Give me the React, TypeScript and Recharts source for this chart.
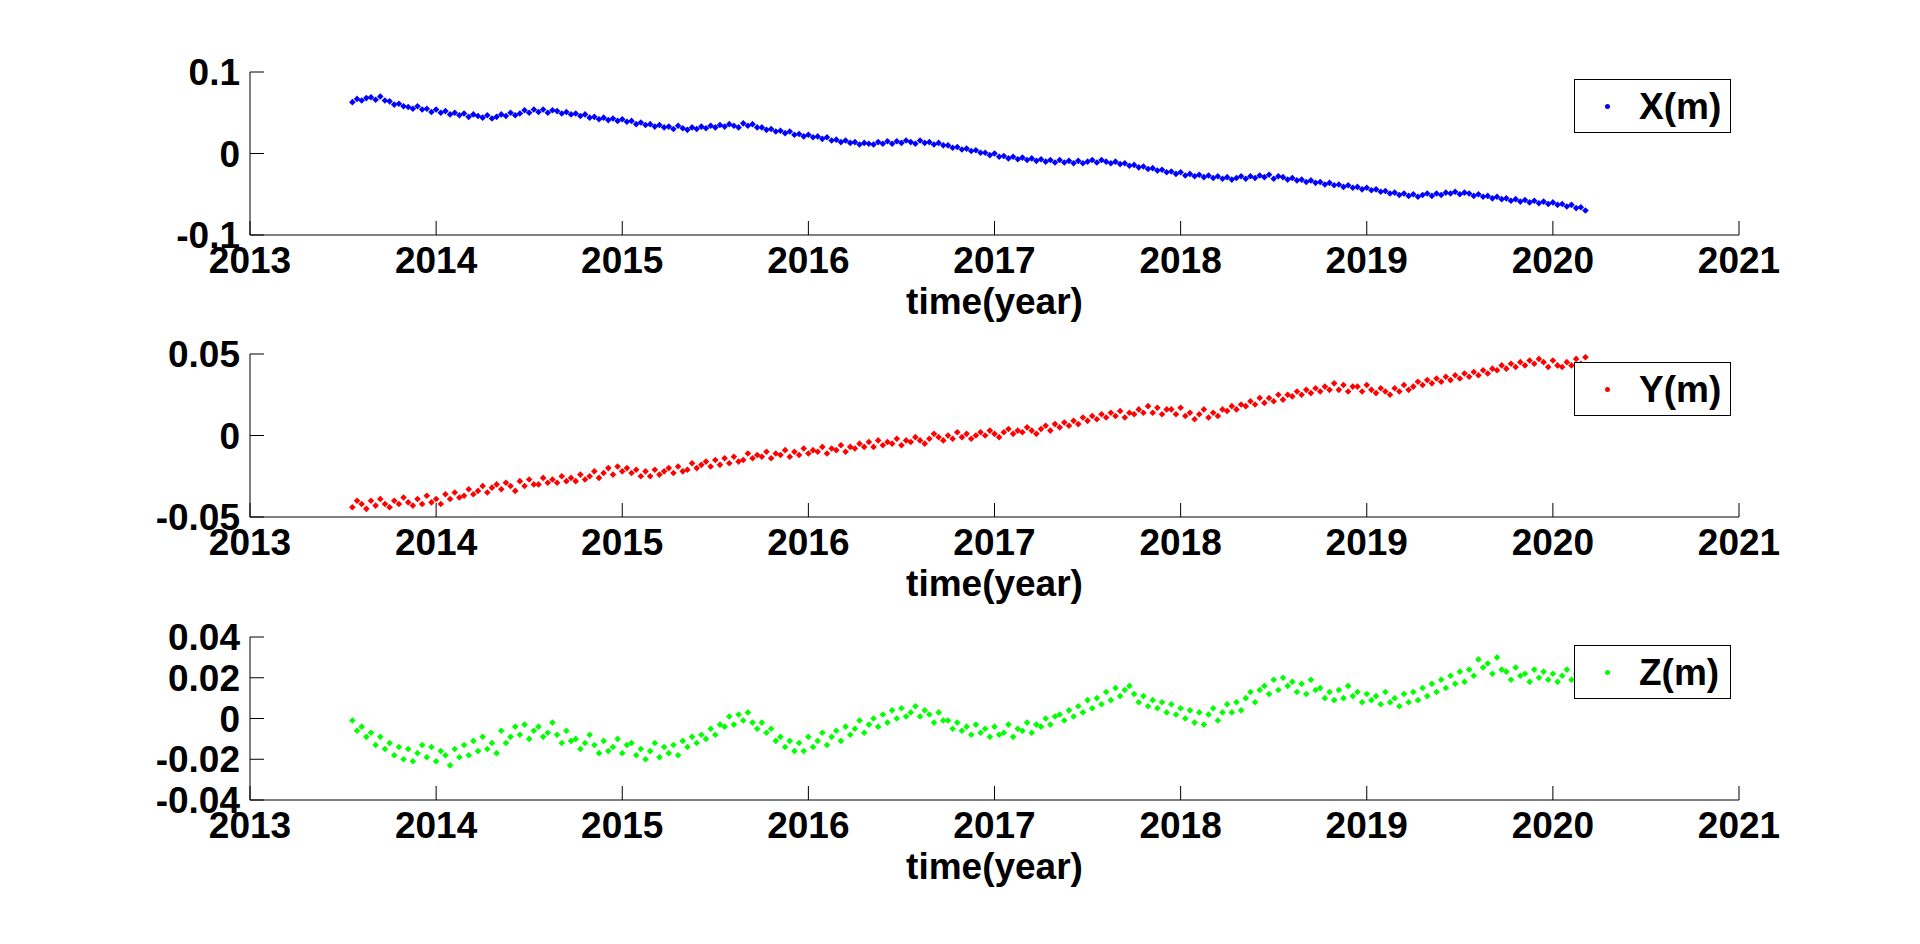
import React from 'react';
import { ScatterChart, Scatter, XAxis, YAxis, Legend } from 'recharts';

// sampling of the daily solutions (decimal year)
const START_YEAR = 2013.55;
const STEP_YEAR = 0.025;
const YEAR_TICKS = [2013, 2014, 2015, 2016, 2017, 2018, 2019, 2020, 2021];

// X component, millimetres, 4 samples per 0.1 year
const X_MM = [
  63, 67, 65, 68, 69, 66, 70, 65, 64, 60, 61, 58, 57, 55, 58, 54, // 2013.55
  55, 51, 54, 50, 52, 48, 50, 47, 49, 45, 48, 46, 44, 47, 43, 45, // 2013.95
  48, 46, 50, 47, 49, 53, 50, 54, 51, 54, 50, 53, 52, 49, 51, 48, // 2014.35
  49, 46, 48, 44, 45, 42, 44, 41, 43, 40, 42, 39, 40, 36, 38, 35, // 2014.75
  36, 33, 35, 32, 33, 30, 34, 31, 29, 32, 30, 33, 31, 34, 32, 35, // 2015.15
  33, 36, 34, 32, 37, 34, 36, 32, 32, 29, 30, 27, 28, 25, 27, 23, // 2015.55
  24, 21, 23, 20, 21, 18, 20, 16, 17, 14, 16, 13, 14, 11, 13, 12, // 2015.95
  11, 14, 12, 15, 12, 15, 13, 16, 14, 12, 16, 13, 14, 11, 13, 10, // 2016.35
  10, 7, 8, 5, 6, 3, 4, 1, 1, -2, 0, -4, -3, -6, -4, -7, // 2016.75
  -5, -8, -6, -9, -7, -10, -8, -11, -8, -11, -9, -12, -9, -12, -10, -8, // 2017.15
  -11, -8, -10, -12, -10, -13, -12, -15, -14, -17, -16, -19, -18, -21, -20, -23, // 2017.55
  -22, -25, -23, -27, -25, -28, -26, -29, -27, -30, -28, -31, -29, -32, -30, -28, // 2017.95
  -31, -28, -30, -27, -29, -26, -31, -28, -29, -32, -30, -33, -32, -35, -33, -36, // 2018.35
  -35, -38, -36, -39, -38, -41, -39, -42, -41, -44, -42, -45, -44, -47, -46, -49, // 2018.75
  -48, -51, -49, -52, -50, -53, -51, -49, -52, -49, -51, -48, -49, -47, -50, -48, // 2019.15
  -49, -52, -50, -53, -52, -55, -53, -56, -55, -58, -56, -59, -57, -60, -58, -61, // 2019.55
  -59, -62, -60, -63, -62, -65, -63, -67, -66, -70, // 2019.95
];

// Y component, millimetres
const Y_MM = [
  -44, -40, -42, -45, -40, -43, -39, -42, -44, -40, -42, -38, -41, -43, -39, -42, // 2013.55
  -37, -41, -39, -42, -36, -39, -35, -38, -37, -33, -36, -34, -31, -35, -32, -30, // 2013.95
  -33, -29, -31, -34, -28, -31, -27, -30, -30, -26, -29, -27, -29, -25, -28, -26, // 2014.35
  -28, -24, -27, -25, -22, -26, -23, -20, -24, -19, -22, -20, -23, -21, -25, -22, // 2014.75
  -25, -21, -24, -22, -20, -23, -19, -22, -21, -17, -20, -18, -16, -19, -15, -18, // 2015.15
  -14, -17, -13, -16, -15, -11, -14, -12, -13, -10, -14, -11, -12, -9, -13, -10, // 2015.55
  -12, -8, -11, -9, -10, -7, -11, -8, -9, -6, -10, -7, -8, -5, -7, -4, // 2015.95
  -7, -3, -6, -4, -5, -2, -6, -3, -4, -1, -3, -5, -2, 1, -1, -3, // 2016.35
  0, -2, 2, -1, 1, -2, 0, 2, 0, 3, 1, -1, 2, 4, 1, 3, // 2016.75
  2, 5, 3, 1, 4, 6, 3, 7, 5, 8, 6, 9, 7, 11, 9, 12, // 2017.15
  10, 13, 11, 14, 12, 15, 11, 14, 13, 16, 14, 18, 14, 17, 13, 16, // 2017.55
  16, 13, 17, 12, 14, 10, 13, 16, 11, 14, 12, 16, 15, 18, 16, 19, // 2017.95
  18, 21, 19, 23, 20, 23, 21, 25, 22, 25, 24, 27, 25, 28, 26, 29, // 2018.35
  27, 30, 28, 32, 28, 31, 27, 30, 30, 27, 31, 28, 26, 29, 27, 25, // 2018.75
  29, 27, 31, 28, 30, 33, 31, 34, 32, 35, 33, 36, 34, 37, 35, 38, // 2019.15
  36, 39, 37, 40, 38, 41, 40, 43, 41, 44, 42, 45, 43, 46, 44, 47, // 2019.55
  45, 42, 46, 43, 42, 45, 43, 47, 44, 48, // 2019.95
];

// Z component, millimetres
const Z_MM = [
  -1, -6, -4, -9, -7, -13, -9, -15, -12, -18, -14, -20, -15, -21, -17, -13, // 2013.55
  -19, -14, -21, -16, -18, -23, -15, -19, -13, -18, -11, -16, -9, -15, -12, -17, // 2013.95
  -6, -12, -9, -4, -8, -3, -10, -6, -4, -9, -7, -2, -8, -12, -6, -11, // 2014.35
  -10, -15, -12, -8, -13, -17, -11, -16, -14, -10, -17, -13, -12, -18, -15, -20, // 2014.75
  -16, -12, -19, -14, -17, -13, -18, -11, -14, -9, -12, -8, -10, -5, -8, -3, // 2015.15
  -4, 1, -3, 2, -1, 3, -2, -5, -2, -7, -5, -11, -9, -14, -11, -16, // 2015.55
  -12, -16, -9, -14, -11, -7, -13, -9, -6, -11, -4, -8, -5, -1, -7, -3, // 2015.95
  0, -4, 2, -2, 4, 0, 5, 1, 3, 6, 1, 4, 2, -2, 3, -1, // 2016.35
  -1, -5, -2, -6, -4, -8, -3, -7, -5, -9, -4, -8, -7, -3, -9, -5, // 2016.75
  -6, -2, -7, -3, -4, 0, -3, 1, 2, -1, 4, 1, 6, 3, 9, 5, // 2017.15
  10, 7, 13, 9, 15, 11, 14, 16, 12, 8, 11, 6, 9, 5, 8, 3, // 2017.55
  7, 2, 5, 0, 4, -2, 3, -3, 2, 5, -1, 3, 7, 3, 8, 4, // 2017.95
  10, 13, 8, 14, 16, 12, 19, 14, 20, 16, 18, 13, 17, 12, 19, 14, // 2018.35
  15, 10, 13, 9, 14, 10, 16, 11, 13, 8, 12, 9, 11, 7, 13, 8, // 2018.75
  10, 6, 12, 8, 13, 9, 15, 11, 17, 13, 19, 15, 21, 17, 23, 18, // 2019.15
  24, 21, 29, 25, 27, 22, 30, 24, 23, 19, 25, 21, 22, 18, 24, 20, // 2019.55
  23, 19, 22, 18, 21, 24, 19, 22, 20, 18, // 2019.95
];

const X_TICKS = [-0.1, 0, 0.1];
const Y_TICKS = [-0.05, 0, 0.05];
const Z_TICKS = [-0.04, -0.02, 0, 0.02, 0.04];

const FONT = '"Liberation Sans", Arial, Helvetica, sans-serif';
const FONT_SIZE = 37;
const TICK_LEN = 14;

const toPoints = (mm: number[]) =>
  mm.map((v, i) => ({ t: +(START_YEAR + i * STEP_YEAR).toFixed(3), v: v / 1000 }));

const fmt = (v: number) => String(Number(v.toFixed(3)));

// bottom axis: label outside, tick drawn inward
const YearTick = (props: any) => {
  const { x, y, payload } = props;
  const axisY = y - 12;
  return (
    <g>
      <line x1={x} x2={x} y1={axisY} y2={axisY - TICK_LEN} stroke="#000" />
      <text x={x} y={y} dy="0.71em" textAnchor="middle" fill="#000"
        fontFamily={FONT} fontWeight="bold" fontSize={FONT_SIZE}>
        {payload.value}
      </text>
    </g>
  );
};

// left axis: label outside, tick drawn inward
const ValueTick = (props: any) => {
  const { x, y, payload } = props;
  const axisX = x + 10;
  return (
    <g>
      <line x1={axisX} x2={axisX + TICK_LEN} y1={y} y2={y} stroke="#000" />
      <text x={x} y={y} dy="0.355em" textAnchor="end" fill="#000"
        fontFamily={FONT} fontWeight="bold" fontSize={FONT_SIZE}>
        {fmt(payload.value)}
      </text>
    </g>
  );
};

const TimeLabel = (props: any) => {
  const { viewBox } = props;
  return (
    <text x={viewBox.x + viewBox.width / 2} y={viewBox.y + 79} textAnchor="middle" fill="#000"
      fontFamily={FONT} fontWeight="bold" fontSize={FONT_SIZE}>
      time(year)
    </text>
  );
};

// small diamond, like the '.' marker of the original plot
const Dot = (p: any) => {
  const s = 3.3;
  return <path d={`M${p.cx},${p.cy - s}L${p.cx + s},${p.cy}L${p.cx},${p.cy + s}L${p.cx - s},${p.cy}Z`} fill={p.fill} />;
};

const LegendBox = ({ name, color }: { name: string; color: string }) => (
  <div style={{
    width: 157, height: 54, boxSizing: 'border-box', border: '1px solid #000', background: '#fff',
    display: 'flex', alignItems: 'center', fontFamily: FONT, fontWeight: 'bold', fontSize: FONT_SIZE,
  }}>
    <span style={{ width: 5, height: 5, borderRadius: '50%', background: color, marginLeft: 30 }} />
    <span style={{ marginLeft: 29, color: '#000', lineHeight: 1 }}>{name}</span>
  </div>
);

interface PanelProps {
  top: number;
  legendTop: number;
  name: string;
  color: string;
  values: number[];
  ticks: number[];
}

function Panel({ top, legendTop, name, color, values, ticks }: PanelProps) {
  const data = toPoints(values);
  const domain: [number, number] = [ticks[0], ticks[ticks.length - 1]];
  return (
    <div style={{ position: 'absolute', left: 0, top }}>
      <ScatterChart width={1920} height={340} margin={{ top: 72, right: 181, bottom: 5, left: 170 }}>
        <XAxis xAxisId="b" dataKey="t" type="number" domain={[2013, 2021]} ticks={YEAR_TICKS}
          allowDataOverflow interval={0} height={100} tickSize={0} tickMargin={12} tickLine={false}
          axisLine={{ stroke: '#000' }} tick={<YearTick />} label={<TimeLabel />} />
        <XAxis xAxisId="t" orientation="top" type="number" domain={[2013, 2021]} ticks={YEAR_TICKS}
          allowDataOverflow interval={0} height={0} mirror tick={false} tickSize={TICK_LEN}
          tickLine={{ stroke: '#000' }} axisLine={{ stroke: '#000' }} />
        <YAxis yAxisId="l" dataKey="v" type="number" domain={domain} ticks={ticks}
          allowDataOverflow interval={0} width={80} tickSize={0} tickMargin={10} tickLine={false}
          axisLine={{ stroke: '#000' }} tick={<ValueTick />} />
        <YAxis yAxisId="r" orientation="right" type="number" domain={domain} ticks={ticks}
          allowDataOverflow interval={0} width={0} mirror tick={false} tickSize={TICK_LEN}
          tickLine={{ stroke: '#000' }} axisLine={{ stroke: '#000' }} />
        <Legend layout="horizontal" verticalAlign="middle" align="center"
          wrapperStyle={{ top: legendTop, right: 189, left: 'auto', width: 'auto' }}
          content={(p: any) => (
            <LegendBox name={p?.payload?.[0]?.value ?? name} color={p?.payload?.[0]?.color ?? color} />
          )} />
        <Scatter xAxisId="b" yAxisId="l" name={name} data={data} fill={color}
          isAnimationActive={false} shape={<Dot />} />
      </ScatterChart>
    </div>
  );
}

export default function App() {
  return (
    <div style={{ position: 'absolute', left: 0, top: 0, width: 1920, height: 944, background: '#fff', overflow: 'hidden' }}>
      <Panel top={0} legendTop={79} name="X(m)" color="#0000ff" values={X_MM} ticks={X_TICKS} />
      <Panel top={282} legendTop={80} name="Y(m)" color="#ff0000" values={Y_MM} ticks={Y_TICKS} />
      <Panel top={565} legendTop={80} name="Z(m)" color="#00ff00" values={Z_MM} ticks={Z_TICKS} />
    </div>
  );
}
